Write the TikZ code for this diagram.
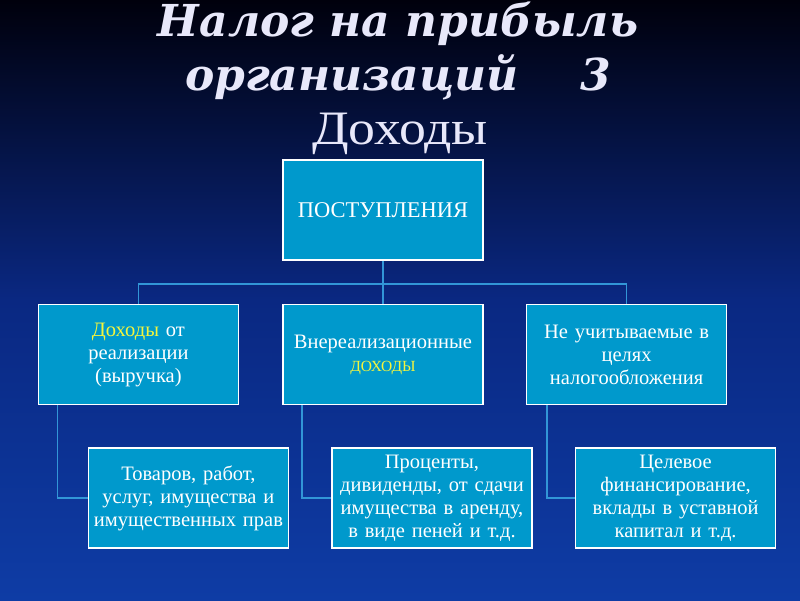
\documentclass[tikz,border=0pt]{standalone}
\usepackage{fontspec}
\setmainfont{Liberation Serif}
\newfontfamily\titlefont{DejaVu Serif}
\newfontfamily\headfont[FakeStretch=1.12]{Liberation Serif}
\usepackage{xcolor}
\usetikzlibrary{positioning}
\definecolor{boxfill}{RGB}{0,153,204}
\definecolor{linkcol}{RGB}{50,150,215}
\definecolor{titlecol}{RGB}{232,232,250}
\definecolor{hilite}{RGB}{245,245,60}
\definecolor{bgtop}{RGB}{0,0,12}
\definecolor{bgmid}{RGB}{10,40,130}
\definecolor{bgbot}{RGB}{14,60,165}
\tikzset {
	box/.style={rectangle, draw=white, line width=1.6pt, fill=boxfill, text=white,
				minimum width=200pt, minimum height=100pt, text width=196pt, inner sep=1pt,
				align=center, font=\fontsize{20.5}{23}\selectfont},
	link/.style={draw=linkcol, line width=1.6pt},
	heading/.style={text=titlecol, inner sep=0pt, anchor=base}
}
\begin{document}
\begin{tikzpicture}[x=1pt, y=1pt]
	\fill[top color=bgtop, bottom color=bgbot, middle color=bgmid] (0,0) rectangle (800,600);
	\useasboundingbox (0,0) rectangle (800,600);
	\node[heading, font=\titlefont\fontsize{44}{50}\selectfont\bfseries\itshape] (t1) at (398,563) {Налог на прибыль};
	\node[heading, font=\titlefont\fontsize{44}{50}\selectfont\bfseries\itshape] (t2) at (398,509) {организаций\hspace{62pt}3};
	\node[heading, font=\headfont\fontsize{48}{54}\selectfont] (t3) at (400,455) {Доходы};

	\node[box, font=\fontsize{22.5}{25}\selectfont] (root) at (383,390) {ПОСТУПЛЕНИЯ};
	\node[box, below=43pt of root] (mid) {Внереализационные\\ {\color{hilite}\fontsize{15.5}{18}\selectfont ДОХОДЫ}};
	\node[box, left=43pt of mid] (sale) {{\color{hilite}Доходы} от\\ реализации\\ (выручка)};
	\node[box, right=42pt of mid] (nottax) {Не учитываемые в\\ целях\\ налогообложения};
	\node[box, below right=42pt and 50pt of sale.south west] (goods) {Товаров, работ,\\ услуг, имущества и\\ имущественных прав};
	\node[box, below right=42pt and 49pt of mid.south west] (interest) {Проценты,\\ дивиденды, от сдачи\\ имущества в аренду,\\ в виде пеней и т.д.};
	\node[box, below right=42pt and 49pt of nottax.south west] (funding) {Целевое\\ финансирование,\\ вклады в уставной\\ капитал и т.д.};

	\draw[link] (root) -- (mid);
	\draw[link] (sale.north) -- ++(0,20pt) -| (nottax.north);
	\draw[link] ([xshift=20pt]sale.south west) |- (goods.west);
	\draw[link] ([xshift=20pt]mid.south west) |- (interest.west);
	\draw[link] ([xshift=21pt]nottax.south west) |- (funding.west);
\end{tikzpicture}
\end{document}
